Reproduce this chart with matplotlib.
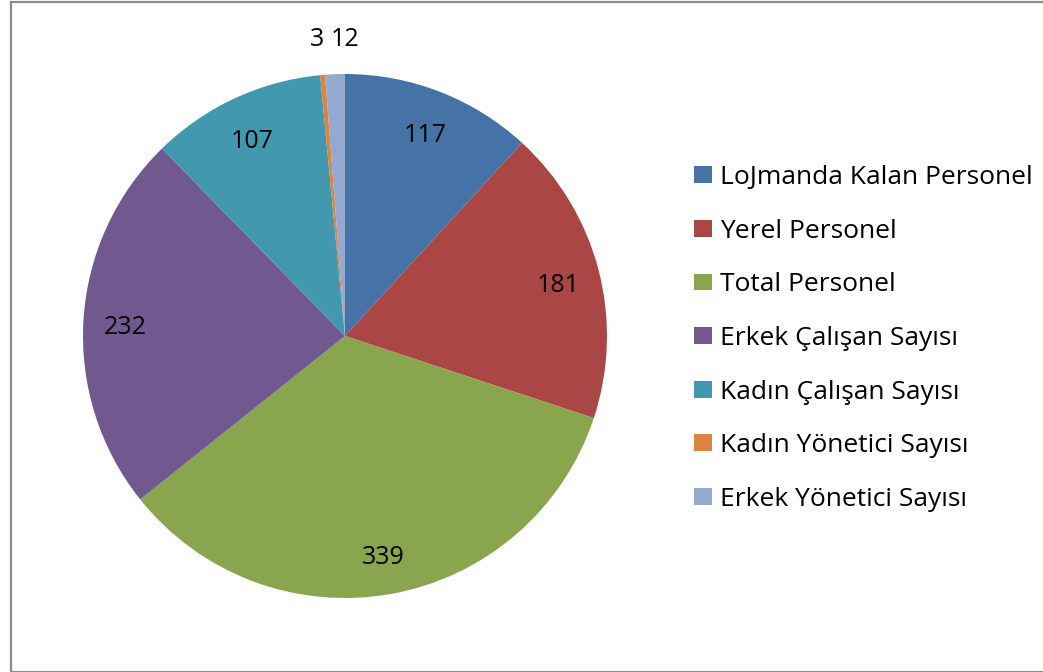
import numpy as np
import matplotlib
matplotlib.use("Agg")
import matplotlib.pyplot as plt
from matplotlib.patches import Patch, Rectangle

# data
categories = ["LoJmanda Kalan Personel", "Yerel Personel", "Total Personel",
              "Erkek Çalışan Sayısı", "Kadın Çalışan Sayısı",
              "Kadın Yönetici Sayısı", "Erkek Yönetici Sayısı"]
values = [117, 181, 339, 232, 107, 3, 12]
colors = ["#4572A7", "#AA4643", "#89A54E", "#71588F", "#4198AF", "#DB843D", "#93A9CF"]

plt.rcParams['font.family'] = ['Open Sans', 'DejaVu Sans']

W, H = 1043, 672
fig = plt.figure(figsize=(W / 100, H / 100), dpi=100)

# outer chart border
fig.add_artist(Rectangle((10.5 / W, 0.5 / H), (W + 20) / W, (H - 2.5) / H,
                         transform=fig.transFigure, fill=False,
                         edgecolor="#8c8c8c", linewidth=1.6))

cx, cy, r = 345, 336, 262
ax = fig.add_axes([(cx - r) / W, (H - cy - r) / H, 2 * r / W, 2 * r / H])
wedges, _ = ax.pie(values, colors=colors, startangle=90, counterclock=False,
                   radius=1, wedgeprops=dict(linewidth=0))
ax.set_xlim(-1, 1)
ax.set_ylim(-1, 1)
ax.set_aspect("equal")
ax.axis("off")

# labels: inside for big slices, above the pie for the tiny ones
small_pos = {5: (-0.107, 1.13), 6: (0.0, 1.13)}
for i, (w, v) in enumerate(zip(wedges, values)):
    if i in small_pos:
        x, y = small_pos[i]
    else:
        ang = np.deg2rad((w.theta1 + w.theta2) / 2)
        x, y = 0.84 * np.cos(ang), 0.84 * np.sin(ang) - 0.018
    ax.text(x, y, str(v), ha="center", va="center", fontsize=18,
            color="black", clip_on=False)

handles = [Patch(facecolor=c, edgecolor="none") for c in colors]
fig.legend(handles, categories, loc="upper left",
           bbox_to_anchor=(694 / W, 1 - 165 / H), frameon=False,
           fontsize=19, handlelength=0.68, handleheight=0.6,
           handletextpad=0.3, labelspacing=1.085, borderpad=0,
           borderaxespad=0)

fig.savefig("out.png", dpi=100)
